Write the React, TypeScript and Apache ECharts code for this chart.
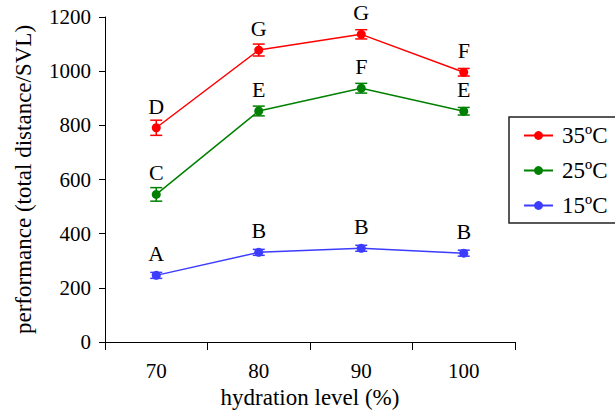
import React, { useEffect, useRef } from "react";
import * as echarts from "echarts";

const categories = ["70", "80", "90", "100"];
const seriesNames = ["35ºC", "25ºC", "15ºC"];
const red35 = [791, 1078, 1136, 996];
const red35Err = [28, 22, 17, 14];
const green25 = [545, 853, 937, 852];
const green25Err = [25, 18, 18, 14];
const blue15 = [246, 331, 346, 328];
const blue15Err = [11, 11, 11, 11];
const red35Letters = ["D", "G", "G", "F"];
const green25Letters = ["C", "E", "F", "E"];
const blue15Letters = ["A", "B", "B", "B"];
const yTicks = [0, 200, 400, 600, 800, 1000, 1200];

const FONT = "Liberation Serif";

export default function App() {
  const ref = useRef<HTMLDivElement>(null);
  useEffect(() => {
    if (!ref.current) return;
    const chart = echarts.init(ref.current, null, { renderer: "svg" });

    const defs = [
      { name: seriesNames[0], vals: red35, err: red35Err, letters: red35Letters, color: "#ff0000" },
      { name: seriesNames[1], vals: green25, err: green25Err, letters: green25Letters, color: "#008000" },
      { name: seriesNames[2], vals: blue15, err: blue15Err, letters: blue15Letters, color: "#3c3cff" },
    ];

    const series: any[] = [];
    defs.forEach((d) => {
      series.push({
        type: "custom",
        name: d.name + "-err",
        data: d.vals.map((v, i) => [i, v - d.err[i], v + d.err[i]]),
        renderItem: (params: any, api: any) => {
          const x = api.coord([api.value(0), 0])[0];
          const lo = api.coord([api.value(0), api.value(1)])[1];
          const hi = api.coord([api.value(0), api.value(2)])[1];
          const w = 6;
          const style = { stroke: d.color, lineWidth: 1.5 };
          return {
            type: "group",
            children: [
              { type: "line", shape: { x1: x, y1: lo, x2: x, y2: hi }, style },
              { type: "line", shape: { x1: x - w, y1: lo, x2: x + w, y2: lo }, style },
              { type: "line", shape: { x1: x - w, y1: hi, x2: x + w, y2: hi }, style },
            ],
          };
        },
        z: 3,
        silent: true,
      });
      series.push({
        type: "line",
        name: d.name,
        data: d.vals,
        color: d.color,
        symbol: "circle",
        symbolSize: 9,
        lineStyle: { width: 1.5, color: d.color },
        itemStyle: { color: d.color },
        z: 4,
        label: {
          show: true,
          position: "top",
          distance: 6,
          fontFamily: FONT,
          fontSize: 22,
          color: "#000",
          formatter: (p: any) => d.letters[p.dataIndex],
        },
      });
    });

    chart.setOption({
      animation: false,
      textStyle: { fontFamily: FONT },
      grid: { left: 105, top: 17, right: 100, bottom: 76, containLabel: false },
      legend: {
        data: seriesNames,
        orient: "vertical",
        left: 509,
        top: 117,
        borderColor: "#222",
        borderWidth: 1.5,
        padding: [7, 26, 6, 14],
        itemGap: 12,
        itemWidth: 29,
        itemHeight: 11,
        textStyle: { fontFamily: FONT, fontSize: 23, color: "#000", padding: [0, 0, 0, 4] },
      },
      xAxis: {
        type: "category",
        data: categories,
        boundaryGap: true,
        name: "hydration level (%)",
        nameLocation: "middle",
        nameGap: 44,
        nameTextStyle: { fontFamily: FONT, fontSize: 23, color: "#000" },
        axisLine: { lineStyle: { color: "#000", width: 1 } },
        axisTick: { show: true, length: 8, lineStyle: { color: "#000" } },
        axisLabel: { fontFamily: FONT, fontSize: 21, color: "#000", margin: 18 },
      },
      yAxis: {
        type: "value",
        min: 0,
        max: 1200,
        interval: 200,
        name: "performance (total distance/SVL)",
        nameLocation: "middle",
        nameGap: 70,
        nameTextStyle: { fontFamily: FONT, fontSize: 23, color: "#000" },
        axisLine: { show: true, lineStyle: { color: "#000", width: 1 } },
        axisTick: { show: true, length: 6, lineStyle: { color: "#000" } },
        splitLine: { show: false },
        axisLabel: {
          fontFamily: FONT,
          fontSize: 21,
          color: "#000",
          margin: 14,
          formatter: (v: number) => (yTicks.includes(v) ? String(v) : ""),
        },
      },
      series,
    });
    return () => chart.dispose();
  }, []);
  return (
    <div
      ref={ref}
      style={{ position: "absolute", left: 0, top: 0, width: 615, height: 418 }}
    />
  );
}
